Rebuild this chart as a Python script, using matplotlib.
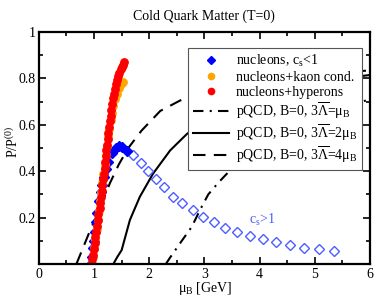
import matplotlib
matplotlib.use("Agg")
import matplotlib.pyplot as plt
from matplotlib.ticker import MultipleLocator, FixedLocator, FixedFormatter

plt.rcParams['font.family'] = 'Liberation Serif'
plt.rcParams['mathtext.fontset'] = 'custom'
plt.rcParams['mathtext.rm'] = 'Liberation Serif'
plt.rcParams['mathtext.it'] = 'Liberation Serif:italic'
plt.rcParams['mathtext.bf'] = 'Liberation Serif:bold'
plt.rcParams['mathtext.default'] = 'rm'

# nucleons, c_s<1 (filled blue diamonds)
blue_mu = [0.94, 0.96, 0.98, 1.00, 1.02, 1.04, 1.06, 1.09, 1.12, 1.15, 1.18, 1.22, 1.26, 1.32, 1.39, 1.45, 1.51, 1.59]
blue_P = [0.00, 0.03, 0.07, 0.10, 0.14, 0.18, 0.22, 0.27, 0.31, 0.34, 0.375, 0.41, 0.44, 0.48, 0.50, 0.507, 0.503, 0.486]
# c_s>1 branch (open diamonds)
open_mu = [1.71, 1.85, 1.98, 2.12, 2.27, 2.43, 2.59, 2.79, 2.98, 3.18, 3.38, 3.60, 3.83, 4.06, 4.30, 4.56, 4.81, 5.08, 5.35]
open_P = [0.47, 0.437, 0.40, 0.365, 0.33, 0.29, 0.264, 0.232, 0.203, 0.18, 0.157, 0.139, 0.12, 0.106, 0.095, 0.082, 0.071, 0.064, 0.058]
# nucleons+kaon cond.
kaon_mu = [0.96, 0.98, 1.00, 1.02, 1.05, 1.07, 1.09, 1.11, 1.13, 1.15, 1.17, 1.19, 1.21, 1.23, 1.25, 1.27, 1.30, 1.32, 1.35, 1.38, 1.41, 1.45, 1.49, 1.52]
kaon_P = [0.00, 0.03, 0.07, 0.11, 0.15, 0.19, 0.23, 0.27, 0.31, 0.35, 0.39, 0.43, 0.47, 0.51, 0.55, 0.58, 0.62, 0.65, 0.68, 0.71, 0.735, 0.76, 0.775, 0.785]
# nucleons+hyperons
hyp_mu = [0.96, 0.97, 0.98, 0.99, 1.01, 1.02, 1.04, 1.05, 1.07, 1.08, 1.10, 1.11, 1.13, 1.14, 1.15, 1.17, 1.18, 1.19, 1.20, 1.21,
          1.22, 1.23, 1.25, 1.26, 1.27, 1.28, 1.30, 1.31, 1.33, 1.34, 1.36, 1.38, 1.40, 1.42, 1.44, 1.46, 1.48, 1.50, 1.52, 1.54]
hyp_P = [0.00, 0.02, 0.04, 0.065, 0.09, 0.115, 0.14, 0.165, 0.19, 0.215, 0.24, 0.265, 0.29, 0.315, 0.34, 0.365, 0.39, 0.415, 0.44, 0.465,
         0.49, 0.515, 0.54, 0.565, 0.59, 0.615, 0.64, 0.665, 0.69, 0.715, 0.735, 0.755, 0.775, 0.795, 0.81, 0.825, 0.84, 0.85, 0.86, 0.87]
# pQCD curves
pq1_mu = [2.30, 2.37, 2.59, 2.77, 2.92, 3.07, 3.25, 3.49, 4.0, 4.5, 5.0, 5.5, 6.0]
pq1_P = [0.0, 0.025, 0.10, 0.16, 0.233, 0.30, 0.35, 0.41, 0.51, 0.58, 0.635, 0.675, 0.71]
pq2_mu = [1.35, 1.42, 1.50, 1.65, 1.83, 2.07, 2.38, 2.68, 3.0, 3.5, 4.0, 4.5, 5.0, 5.5, 6.0]
pq2_P = [0.0, 0.03, 0.06, 0.19, 0.29, 0.39, 0.49, 0.56, 0.62, 0.68, 0.72, 0.755, 0.78, 0.80, 0.815]
pq4_mu = [0.68, 0.80, 0.92, 1.05, 1.17, 1.29, 1.45, 1.62, 1.86, 2.2, 2.56, 3.0, 3.5, 4.0, 4.5, 5.0, 5.5, 6.0]
pq4_P = [0.0, 0.07, 0.14, 0.21, 0.28, 0.35, 0.43, 0.50, 0.575, 0.66, 0.705, 0.74, 0.765, 0.785, 0.80, 0.815, 0.825, 0.835]

ytick_vals = [0, 0.2, 0.4, 0.6, 0.8, 1.0]
ytick_labels = ['', '0.2', '0.4', '0.6', '0.8', '1']

fig = plt.figure(figsize=(3.74, 2.97), dpi=100)
ax = fig.add_axes([0.104, 0.111, 0.885, 0.781])

ax.plot(pq1_mu, pq1_P, color='black', lw=1.5, linestyle=(0, (5, 3, 1, 3)),
        label=r'pQCD, B=0, 3$\overline{\Lambda}$=$\mu_\mathrm{B}$')
ax.plot(pq2_mu, pq2_P, color='black', lw=1.5, linestyle='-',
        label=r'pQCD, B=0, 3$\overline{\Lambda}$=2$\mu_\mathrm{B}$')
ax.plot(pq4_mu, pq4_P, color='black', lw=1.5, linestyle=(0, (6, 4)),
        label=r'pQCD, B=0, 3$\overline{\Lambda}$=4$\mu_\mathrm{B}$')

ax.plot(open_mu, open_P, linestyle='none', marker='D', markersize=5,
        markerfacecolor='none', markeredgecolor='#4d5dff', markeredgewidth=1.0)
h_blue, = ax.plot(blue_mu, blue_P, linestyle='none', marker='D', markersize=4.8,
                  color='#0000ff', label=r'nucleons, c$_\mathrm{s}$<1')
h_kaon, = ax.plot(kaon_mu, kaon_P, linestyle='none', marker='o', markersize=5.3,
                  color='#ffa500', label='nucleons+kaon cond.')
h_hyp, = ax.plot(hyp_mu, hyp_P, linestyle='none', marker='o', markersize=5.3,
                 color='#ff0000', label='nucleons+hyperons')

ax.text(4.05, 0.19, r'c$_\mathrm{s}$>1', color='#4d5dff', fontsize=10, ha='center', va='center')

ax.set_xlim(0, 6)
ax.set_ylim(0, 1)
ax.xaxis.set_major_locator(MultipleLocator(1))
ax.xaxis.set_minor_locator(MultipleLocator(0.5))
ax.yaxis.set_major_locator(FixedLocator(ytick_vals))
ax.yaxis.set_major_formatter(FixedFormatter(ytick_labels))
ax.yaxis.set_minor_locator(MultipleLocator(0.1))
ax.tick_params(which='both', direction='in', top=True, right=True, labelsize=10, width=1.2)
ax.tick_params(which='major', length=5)
ax.tick_params(which='minor', length=3)
ax.tick_params(axis='y', pad=2.5)
ax.tick_params(axis='x', pad=3)
for s in ax.spines.values():
    s.set_linewidth(1.6)

fig.text(205 / 374, 1 - 288.5 / 297, r'$\mu_\mathrm{B}$ [GeV]', fontsize=10, ha='center', va='center')
fig.text(12.5 / 374, 1 - 142 / 297, r'P/P$^{(0)}$', fontsize=10, ha='center', va='center', rotation=90)
ax.set_title('Cold Quark Matter (T=0)', fontsize=10, pad=9)

handles, labels = ax.get_legend_handles_labels()
order = [3, 4, 5, 0, 1, 2]
leg = ax.legend([handles[i] for i in order], [labels[i] for i in order],
                loc='upper left', bbox_to_anchor=(0.45, 0.93), fontsize=10,
                frameon=True, fancybox=False, edgecolor='#555555', framealpha=1,
                labelspacing=0.12, handlelength=2.6, handletextpad=0.5,
                borderpad=0.35, borderaxespad=0, markerscale=0.85)
leg.get_frame().set_linewidth(0.8)

fig.savefig('out.png', dpi=100)
